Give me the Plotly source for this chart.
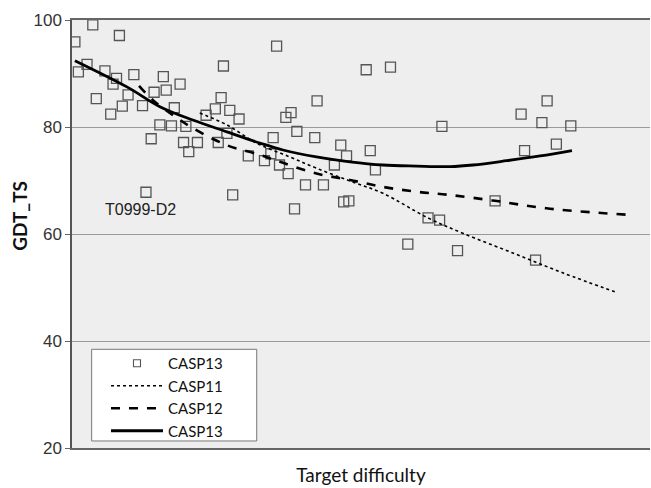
import plotly.graph_objects as go

# Scatter points (CASP13 targets): difficulty (arbitrary 0-100) vs GDT_TS
pts_x = [0.5, 3.6, 8.2, 1.1, 2.6, 5.7, 7.7, 7.1, 10.7, 4.2, 8.7, 6.7, 9.7, 12.2, 14.2,
         15.8, 16.3, 18.7, 17.7, 15.2, 17.2, 19.7, 13.7, 19.3, 21.7, 20.2, 23.2, 24.8,
         25.8, 26.2, 27.3, 28.9, 26.8, 25.3, 30.5, 12.8, 27.8, 35.4, 50.9, 55.1, 42.4,
         37.9, 37.0, 38.9, 34.8, 42.0, 46.5, 47.5, 51.6, 45.4, 52.5, 64.0, 33.3, 34.4,
         35.9, 37.4, 40.4, 43.5, 47.0, 47.9, 38.5, 82.2, 77.7, 81.3, 86.3, 78.3, 83.8,
         73.2, 61.6, 63.6, 58.1, 66.7, 80.2]
pts_y = [95.9, 99.1, 97.1, 90.3, 91.7, 90.5, 89.1, 88.0, 89.8, 85.3, 83.9, 82.4, 86.0,
         84.0, 86.5, 89.4, 86.9, 88.0, 83.6, 80.4, 80.2, 80.1, 77.8, 77.1, 77.1, 75.4,
         82.2, 83.4, 85.5, 91.4, 83.1, 81.5, 78.8, 77.1, 74.6, 67.8, 67.3, 95.1, 90.7,
         91.2, 84.9, 82.7, 81.8, 79.2, 78.0, 78.0, 76.6, 74.6, 75.6, 72.9, 72.0, 80.1,
         73.7, 75.0, 72.9, 71.3, 69.2, 69.2, 66.0, 66.2, 64.7, 84.9, 82.4, 80.8, 80.2,
         75.6, 76.8, 66.2, 63.0, 62.6, 58.1, 56.9, 55.1]

# Trend curves
c11_x = [22.1, 26.8, 31.9, 37.7, 42.3, 48.1, 53.8, 61.6, 67.7, 76.4, 85.0, 93.9]
c11_y = [82.6, 80.4, 77.0, 74.4, 72.3, 69.9, 67.6, 63.0, 60.1, 56.4, 52.7, 49.2]

c12_x = [11.6, 14.0, 17.5, 20.9, 26.8, 32.5, 36.5, 42.3, 48.1, 53.8, 59.6, 65.4, 73.2, 82.1, 96.0]
c12_y = [87.7, 85.0, 82.2, 79.8, 76.6, 74.8, 73.3, 71.3, 70.1, 68.8, 67.9, 67.3, 66.2, 64.8, 63.6]

c13_x = [0.5, 9.5, 15.2, 20.9, 26.8, 32.5, 36.5, 42.3, 48.1, 53.8, 59.6, 65.4, 69.4, 75.2, 81.0, 86.5]
c13_y = [92.4, 87.5, 83.8, 81.3, 79.1, 77.0, 75.7, 74.4, 73.5, 72.9, 72.7, 72.6, 72.9, 73.7, 74.6, 75.6]

y_ticks = [20, 40, 60, 80, 100]
label_x, label_y, label_text = 11.8, 64.5, "T0999-D2"

fig = go.Figure()
fig.add_trace(go.Scatter(x=pts_x, y=pts_y, mode="markers", name="CASP13", showlegend=False,
                         marker=dict(symbol="square-open", size=10,
                                     color="#555555", line=dict(width=1.3, color="#555555"))))
# legend entry for the markers (smaller symbol, as in the original legend)
fig.add_trace(go.Scatter(x=[None], y=[None], mode="markers", name="CASP13",
                         marker=dict(symbol="square-open", size=7,
                                     color="#555555", line=dict(width=1.1, color="#555555"))))
fig.add_trace(go.Scatter(x=c11_x, y=c11_y, mode="lines", name="CASP11",
                         line=dict(color="black", width=1.6, dash="dot", shape="spline")))
fig.add_trace(go.Scatter(x=c12_x, y=c12_y, mode="lines", name="CASP12",
                         line=dict(color="black", width=2.6, dash="dash", shape="spline")))
fig.add_trace(go.Scatter(x=c13_x, y=c13_y, mode="lines", name="CASP13",
                         line=dict(color="black", width=2.8, shape="spline")))

fig.add_annotation(x=label_x, y=label_y, text=label_text, showarrow=False,
                   font=dict(family="Liberation Sans, Arial", size=16, color="#222222"))

# y-axis title placed like the original (slightly above centre)
fig.add_annotation(xref="paper", yref="paper", x=-0.092, y=0.542, text="<b>GDT_TS</b>",
                   textangle=-90, showarrow=False, xanchor="center", yanchor="middle",
                   font=dict(family="Lato, Open Sans", size=19, color="#111111"))

# legend frame
fig.add_shape(type="rect", xref="paper", yref="paper", x0=0.034, x1=0.3196, y0=0.0164, y1=0.2306,
              fillcolor="white", line=dict(color="#777777", width=1), layer="above")

fig.update_layout(
    width=651, height=488,
    margin=dict(l=72, r=1, t=20, b=40),
    paper_bgcolor="white", plot_bgcolor="#eeeeee",
    showlegend=True,
    legend=dict(x=0.0588, y=0.236, xanchor="left", yanchor="top",
                bgcolor="rgba(0,0,0,0)", borderwidth=0,
                font=dict(family="Lato, Open Sans", size=15, color="#111111"),
                itemwidth=52, tracegroupgap=0),
    xaxis=dict(range=[0, 100], showticklabels=False, ticks="", showgrid=False,
               zeroline=False, showline=True, linecolor="#666666", linewidth=1.5,
               mirror=True,
               title=dict(text="Target difficulty", standoff=20,
                          font=dict(family="Lato, Open Sans", size=19, color="#111111"))),
    yaxis=dict(range=[20, 100], tickvals=y_ticks, ticks="outside", ticklen=5,
               tickcolor="#666666", showgrid=True, gridcolor="#9a9a9a", gridwidth=1,
               zeroline=False, showline=True, linecolor="#555555", linewidth=1.5,
               tickfont=dict(family="Liberation Sans, Arial", size=17, color="#333333")),
)

fig.write_html("out.html")
